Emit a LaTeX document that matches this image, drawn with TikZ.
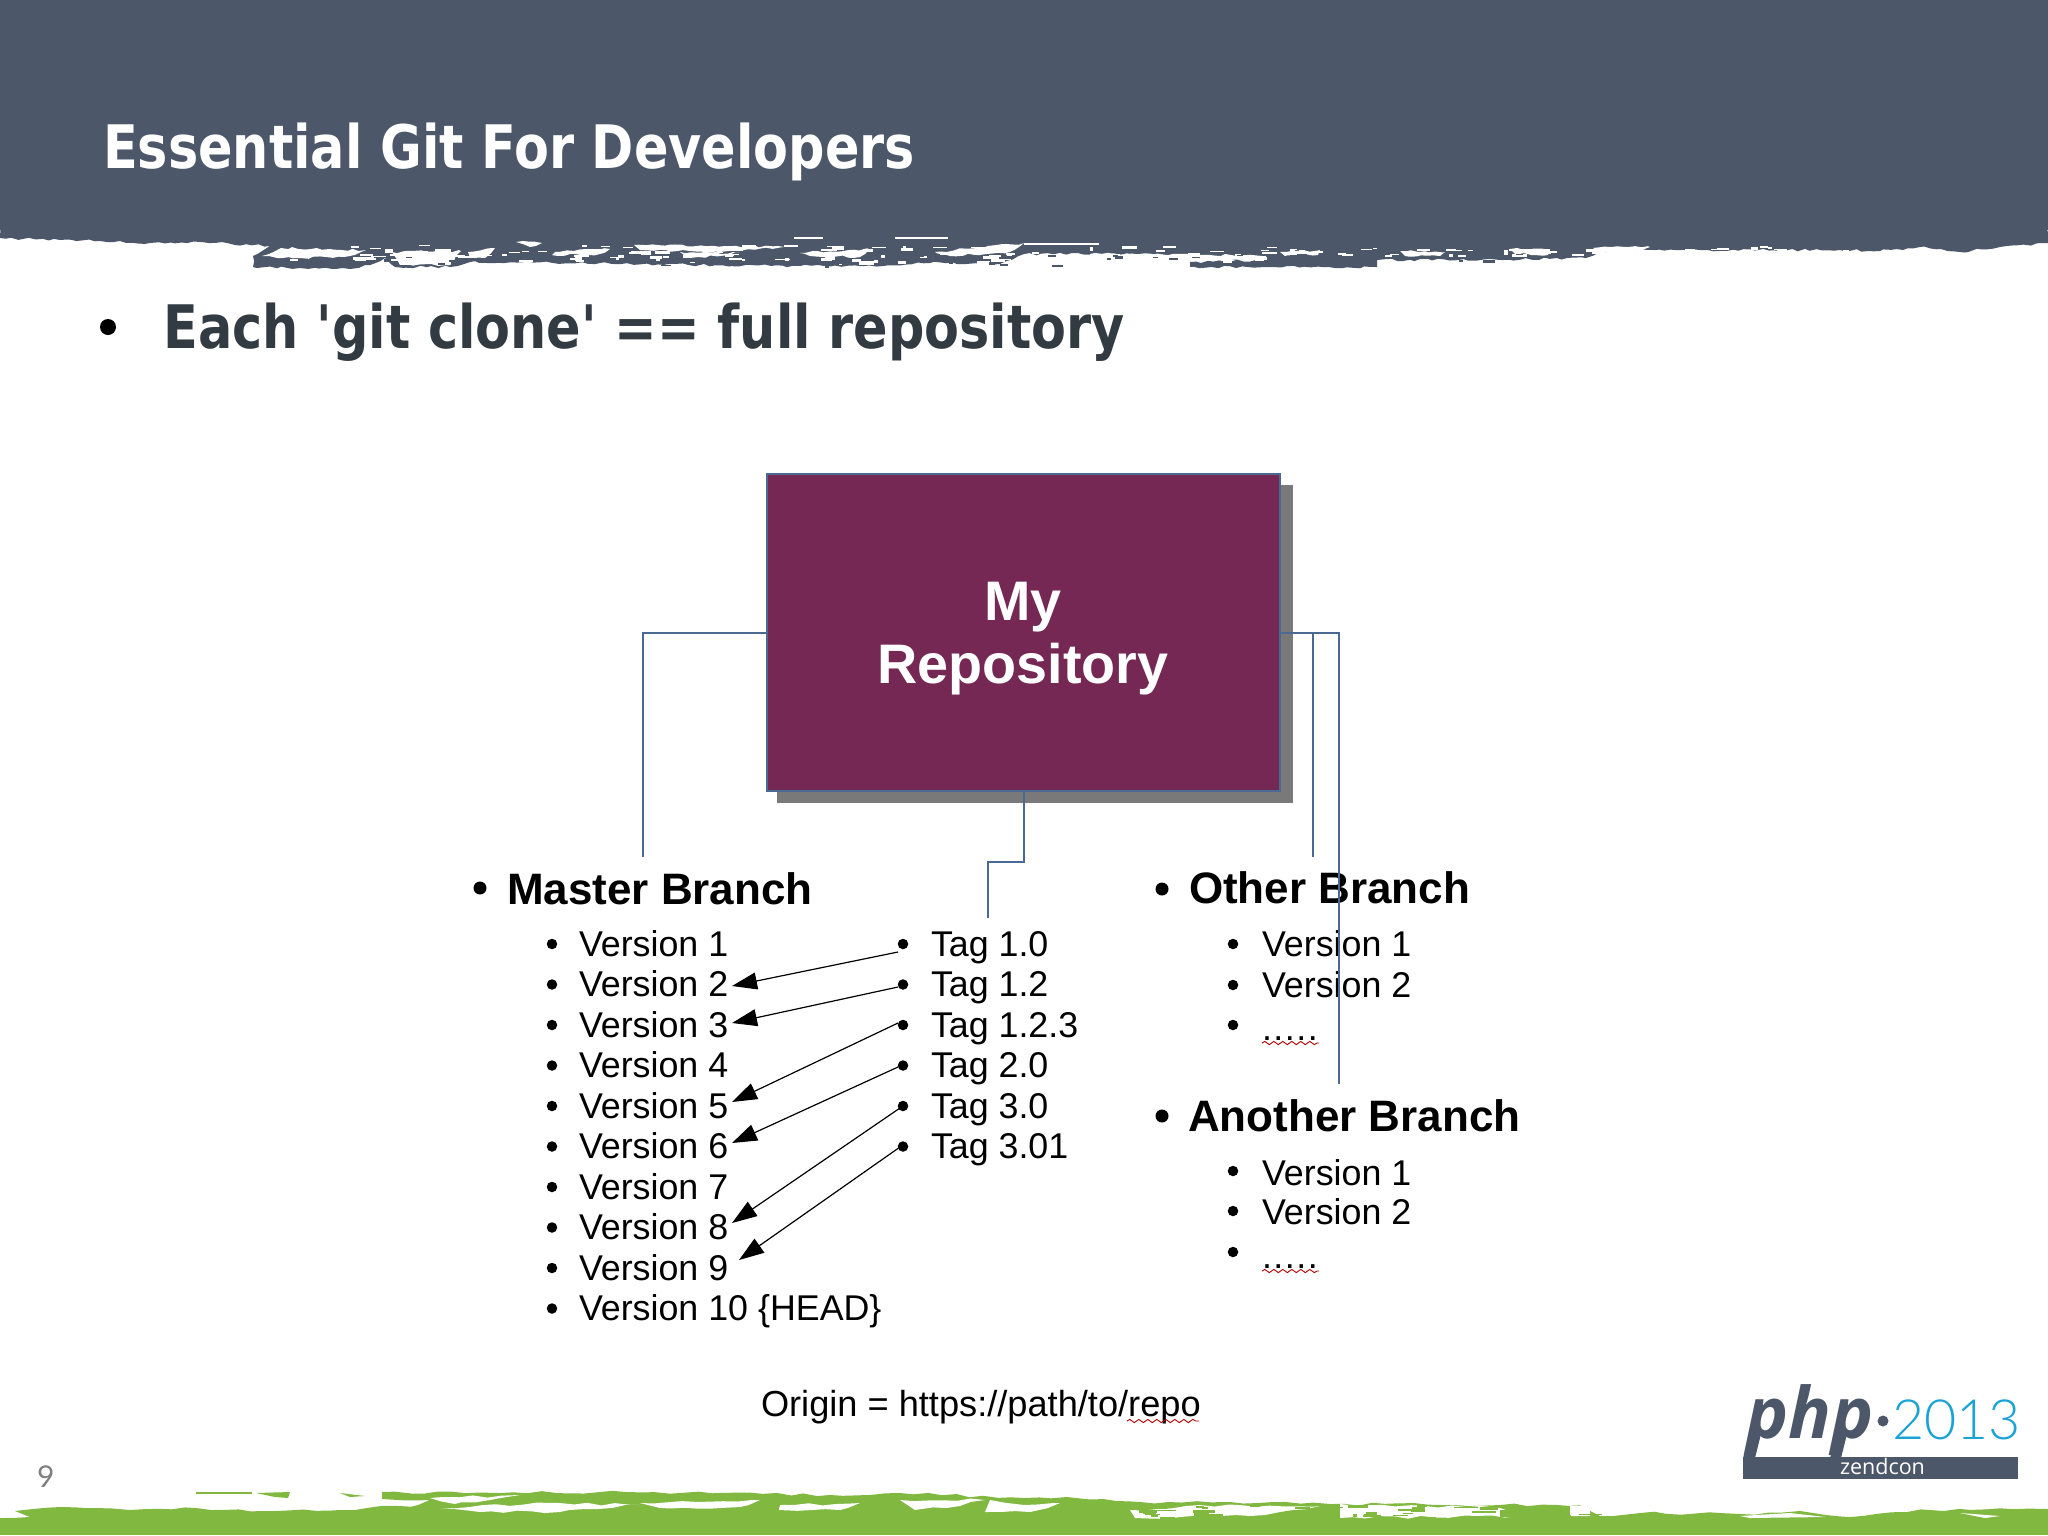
\documentclass[tikz,border=0pt]{standalone}
\usepackage{fontspec}
\usetikzlibrary{arrows.meta,decorations.pathmorphing}
\setmainfont{Liberation Sans}
\newfontfamily\slidefont[FakeStretch=0.848]{DejaVu Sans Bold}
\newfontfamily\logofont{Open Sans}
\newfontfamily\numfont{Lato}
\newfontfamily\yearfont{Lato Light}
\definecolor{headblue}{HTML}{4C5769}
\definecolor{leafgreen}{HTML}{80B840}
\definecolor{plum}{HTML}{742853}
\definecolor{edgeblue}{HTML}{4A6A94}
\definecolor{inkdark}{HTML}{333B42}
\definecolor{skyblue}{HTML}{1BA3D6}
\tikzset{
  x=1pt,y=-1pt,
  txt/.style={inner sep=0pt,outer sep=0pt,anchor=base west,text=black},
  head/.style={txt,font=\fontsize{44}{50}\selectfont\bfseries},
  item/.style={txt,font=\fontsize{35.8}{40}\selectfont},
  dot/.style={circle,fill=black,inner sep=0pt,minimum size=10.5pt},
  bigdot/.style={circle,fill=black,inner sep=0pt,minimum size=13pt},
  link/.style={draw=edgeblue,line width=1.2pt},
  tagarrow/.style={draw=black,line width=1.2pt,-{Stealth[inset=0pt,length=25pt,width=17pt]}},
  squiggle/.style={draw=red!70!black,line width=0.9pt,decorate,decoration={snake,amplitude=1.6pt,segment length=9pt}},
  rough/.style={decorate,decoration={random steps,segment length=6pt,amplitude=1.3pt}},
  roughwide/.style={decorate,decoration={random steps,segment length=14pt,amplitude=1.5pt}},
  rip/.style={fill=white,rough},
  ripwide/.style={fill=white,roughwide},
}
\begin{document}
\begin{tikzpicture}
\pgfmathsetseed{4242}
\useasboundingbox (0,0) rectangle (2048,1535);
\fill[white] (0,0) rectangle (2048,1535);
% header
\fill[headblue,rough] (0,0) -- (2048,0) -- (2048,243) -- (2000,247) -- (1960,252) -- (1920,247) -- (1880,251) -- (1840,250) -- (1700,250) -- (1610,250) -- (1586,258) -- (1481,260) -- (1377,260) -- (1377,267) -- (1266,267) -- (1190,267) -- (1190,262) -- (1266,260) -- (1150,254) -- (1024,254) -- (1000,264) -- (930,263) -- (860,266) -- (800,266) -- (700,265) -- (600,263) -- (470,262) -- (450,267) -- (395,267) -- (385,258) -- (370,265) -- (350,269) -- (300,268) -- (253,267) -- (253,256) -- (270,246) -- (200,242) -- (150,243) -- (100,241) -- (60,240) -- (0,238) -- cycle;
\fill[headblue] (0,0) rectangle (2048,230);
\fill[rip] (281,248) -- (366,250) -- (350,256) -- (300,258) -- (262,256) -- cycle;
\fill[rip] (392,252) -- (461,251) -- (450,265) -- (400,265) -- cycle;
\fill[rip] (468,252) -- (495,248) -- (485,258) -- (470,258) -- cycle;
\fill[rip] (516,242) -- (542,243) -- (530,247) -- cycle;
\fill[rip] (555,252) -- (610,249) -- (600,254) -- (555,255) -- cycle;
\fill[rip] (634,245) -- (784,247) -- (720,252) -- (640,250) -- cycle;
\fill[rip] (680,252) -- (740,253) -- (690,258) -- cycle;
\fill[white] (794,237) rectangle (823,239);
\fill[white] (895,237) rectangle (948,239);
\fill[rip] (800,253) -- (869,249) -- (860,257) -- (810,256) -- cycle;
\fill[rip] (935,252) -- (1024,243) -- (1010,252) -- (950,256) -- cycle;
\fill[white] (1024,243) rectangle (1099,245);
\fill[rip] (1090,254) -- (1190,254) -- (1266,256) -- (1266,259) -- (1190,261) -- (1090,262) -- cycle;
\fill[rip] (1280,252) -- (1320,250) -- (1318,255) -- (1285,256) -- cycle;
\fill[rip] (1400,251) -- (1445,252) -- (1440,256) -- (1405,256) -- cycle;
\fill[rip] (1510,249) -- (1550,249) -- (1548,255) -- (1515,254) -- cycle;
\fill[rip] (1593,248) -- (1650,247) -- (1640,253) -- (1600,253) -- cycle;
% torn-edge specks
\foreach \i in {1,...,130}{
  \pgfmathsetmacro\rx{270+rnd*1000}
  \pgfmathsetmacro\ry{245+rnd*17}
  \pgfmathsetmacro\rw{3+rnd*13}
  \pgfmathsetmacro\rh{1+rnd*2.5}
  \fill[white] (\rx,\ry) rectangle ++(\rw,\rh);
}
\foreach \i in {1,...,60}{
  \pgfmathsetmacro\rx{1250+rnd*600}
  \pgfmathsetmacro\ry{246+rnd*9}
  \pgfmathsetmacro\rw{3+rnd*12}
  \pgfmathsetmacro\rh{1+rnd*2}
  \fill[white] (\rx,\ry) rectangle ++(\rw,\rh);
}
\foreach \i in {1,...,60}{
  \pgfmathsetmacro\rx{260+rnd*1300}
  \pgfmathsetmacro\ry{254+rnd*11}
  \pgfmathsetmacro\rw{3+rnd*10}
  \pgfmathsetmacro\rh{1+rnd*2}
  \fill[headblue] (\rx,\ry) rectangle ++(\rw,\rh);
}
% footer
\fill[leafgreen,roughwide] (0,1518) -- (30,1517) -- (15,1511) -- (33,1509) -- (85,1508) -- (130,1510) -- (196,1508) -- (260,1511) -- (340,1510) -- (418,1505) -- (430,1500) -- (382,1499) -- (382,1492) -- (500,1493) -- (600,1492) -- (720,1493) -- (830,1495) -- (900,1493) -- (1024,1498) -- (1076,1498) -- (1140,1502) -- (1230,1502) -- (1330,1504) -- (1500,1505) -- (1580,1505) -- (1600,1516) -- (1640,1513) -- (1740,1514) -- (1800,1511) -- (1850,1517) -- (1930,1510) -- (2048,1509) -- (2048,1530) -- (0,1530) -- cycle;
\fill[leafgreen] (0,1520) rectangle (2048,1535);
\fill[leafgreen] (196,1492) -- (252,1492) -- (252,1494) -- (196,1494) -- cycle;
\fill[leafgreen] (256,1493) -- (290,1492) -- (288,1498) -- (275,1497) -- cycle;
\fill[leafgreen] (340,1493) -- (365,1496) -- (350,1497) -- cycle;
\fill[ripwide] (430,1498) -- (520,1495) -- (490,1500) -- (455,1504) -- cycle;
\fill[ripwide] (440,1508) -- (560,1503) -- (640,1505) -- (560,1512) -- (480,1512) -- cycle;
\fill[ripwide] (640,1503) -- (760,1500) -- (740,1507) -- (660,1508) -- cycle;
\fill[ripwide] (780,1505) -- (860,1503) -- (840,1510) -- (790,1510) -- cycle;
\fill[ripwide] (900,1500) -- (985,1500) -- (960,1506) -- (915,1510) -- cycle;
\fill[ripwide] (990,1500) -- (1024,1505) -- (1060,1503) -- (1030,1512) -- (985,1512) -- cycle;
\fill[ripwide] (1130,1510) -- (1200,1505) -- (1320,1506) -- (1250,1516) -- (1135,1518) -- cycle;
\fill[ripwide] (1340,1504) -- (1500,1508) -- (1520,1516) -- (1340,1518) -- cycle;
\fill[white] (1570,1506) -- (1590,1505) -- (1590,1516) -- (1570,1516) -- cycle;
\fill[white] (1740,1516) -- (1790,1513) -- (1825,1517) -- (1750,1518) -- cycle;
\fill[white] (1960,1513) -- (2000,1516) -- (1985,1518) -- cycle;
\fill[leafgreen,roughwide] (1500,1510) -- (1570,1508) -- (1560,1517) -- (1500,1517) -- cycle;
\foreach \i in {1,...,45}{
  \pgfmathsetmacro\rx{1100+rnd*480}
  \pgfmathsetmacro\ry{1505+rnd*12}
  \pgfmathsetmacro\rw{4+rnd*20}
  \pgfmathsetmacro\rh{1+rnd*2}
  \fill[leafgreen] (\rx,\ry) rectangle ++(\rw,\rh);
}
% titles
\node[txt,text=white,font=\fontsize{60}{70}\slidefont] (title) at (103,168) {Essential Git For Developers};
\node[circle,fill=black,inner sep=0pt,minimum size=16pt] (lead) at (108,327) {};
\node[txt,text=inkdark,font=\fontsize{60}{70}\slidefont] (sub) at (163.5,348) {Each 'git clone' == full repository};
% repository box
\fill[gray!95!black] (777,485) rectangle (1293,803);
\node[draw=edgeblue,fill=plum,line width=1.2pt,inner sep=0pt,minimum width=513pt,minimum height=317pt,anchor=north west,outer sep=0pt] (repo) at (767,474) {};
\node[inner sep=0pt,anchor=base,text=white,font=\fontsize{55.7}{60}\selectfont\bfseries] (my) at (1023,620) {My};
\node[inner sep=0pt,anchor=base,text=white,font=\fontsize{55.7}{60}\selectfont\bfseries] (repotxt) at (1023,683) {Repository};
% master branch
\node[bigdot] (bm) at (480,888) {};
\node[head] (master) at (507,904) {Master Branch};
\foreach \n/\y/\t in {1/956/Version 1,2/996.5/Version 2,3/1037/Version 3,4/1077.5/Version 4,5/1118/Version 5,6/1158.5/Version 6,7/1199/Version 7,8/1239.5/Version 8,9/1280/Version 9,10/1320.5/Version 10 \{HEAD\}}{
  \node[dot] (vb\n) at (552,\y-12) {};
  \node[item] (v\n) at (579,\y) {\t};
}
\foreach \n/\y/\t in {1/956/Tag 1.0,2/996.5/Tag 1.2,3/1037/Tag 1.2.3,4/1077.5/Tag 2.0,5/1118/Tag 3.0,6/1158.5/Tag 3.01}{
  \node[dot] (tb\n) at (903,\y-12) {};
  \node[item] (t\n) at (931,\y) {\t};
}
% other branch
\node[bigdot] (bo) at (1162,889) {};
\node[head] (other) at (1189,903) {Other Branch};
\node[dot] (ob1) at (1233,944) {};
\node[item] (ov1) at (1262,956) {Version 1};
\node[dot] (ob2) at (1233,985) {};
\node[item] (ov2) at (1262,997) {Version 2};
\node[dot] (ob3) at (1233,1025) {};
\node[item] (ov3) at (1262,1040) {.\kern1.5pt.\kern1.5pt.\kern1.5pt.\kern1.5pt.};
\draw[squiggle] (1262,1043) -- (1319,1043);
% another branch
\node[bigdot] (ba) at (1162,1116) {};
\node[head] (another) at (1188,1131) {Another Branch};
\node[dot] (ab1) at (1233,1171) {};
\node[item] (av1) at (1262,1185) {Version 1};
\node[dot] (ab2) at (1233,1211) {};
\node[item] (av2) at (1262,1224) {Version 2};
\node[dot] (ab3) at (1233,1252) {};
\node[item] (av3) at (1262,1268) {.\kern1.5pt.\kern1.5pt.\kern1.5pt.\kern1.5pt.};
\draw[squiggle] (1262,1271) -- (1319,1271);
% origin
\node[item,font=\fontsize{36.2}{40}\selectfont] (origin) at (761,1416) {Origin = https://path/to/repo};
\draw[squiggle] (1127,1421) -- (1199,1421);
% tag arrows
\coordinate (a1s) at (898,952); \coordinate (a1e) at (732,986);
\coordinate (a2s) at (898,987); \coordinate (a2e) at (732,1023);
\coordinate (a3s) at (898,1023); \coordinate (a3e) at (732,1102);
\coordinate (a4s) at (898,1067); \coordinate (a4e) at (732,1143);
\coordinate (a5s) at (900,1108); \coordinate (a5e) at (732,1223);
\coordinate (a6s) at (900,1147); \coordinate (a6e) at (739,1260);
\foreach \n in {1,...,6}{\draw[tagarrow] (a\n s) -- (a\n e);}
% connectors
\coordinate (lj) at (767,633); \coordinate (lc) at (643,633); \coordinate (le) at (643,857);
\draw[link] (lj) -- (lc) -- (le);
\coordinate (rj) at (1280,633); \coordinate (rc1) at (1313,633); \coordinate (re1) at (1313,857);
\coordinate (rc2) at (1339,633); \coordinate (re2) at (1339,1084);
\draw[link] (rj) -- (rc2) -- (re2);
\draw[link] (rc1) -- (re1);
\coordinate (bs) at (1024,791); \coordinate (bk1) at (1024,862); \coordinate (bk2) at (988,862); \coordinate (be) at (988,918);
\draw[link] (bs) -- (bk1) -- (bk2) -- (be);
% page number
\node[txt,text=gray,font=\fontsize{30}{34}\numfont] (page) at (37,1487) {9};
% logo
\fill[headblue] (1743,1457) rectangle (2018,1479);
\fill[headblue] (1752,1430) -- (1762,1430) -- (1755,1458) -- (1743,1458) -- cycle;
\fill[headblue] (1838,1430) -- (1848,1430) -- (1841,1458) -- (1830,1458) -- cycle;
\node[txt,text=headblue,font=\fontsize{71}{74}\logofont\bfseries\itshape] (php) at (1746,1438) {php};
\fill[headblue] (1883,1421) circle (5.5pt);
\node[txt,text=skyblue,font=\fontsize{55.5}{60}\yearfont] (yr) at (1892,1439) {2013};
\node[txt,text=white,font=\fontsize{21.5}{24}\logofont] (zc) at (1840,1474) {zendcon};
\end{tikzpicture}
\end{document}
